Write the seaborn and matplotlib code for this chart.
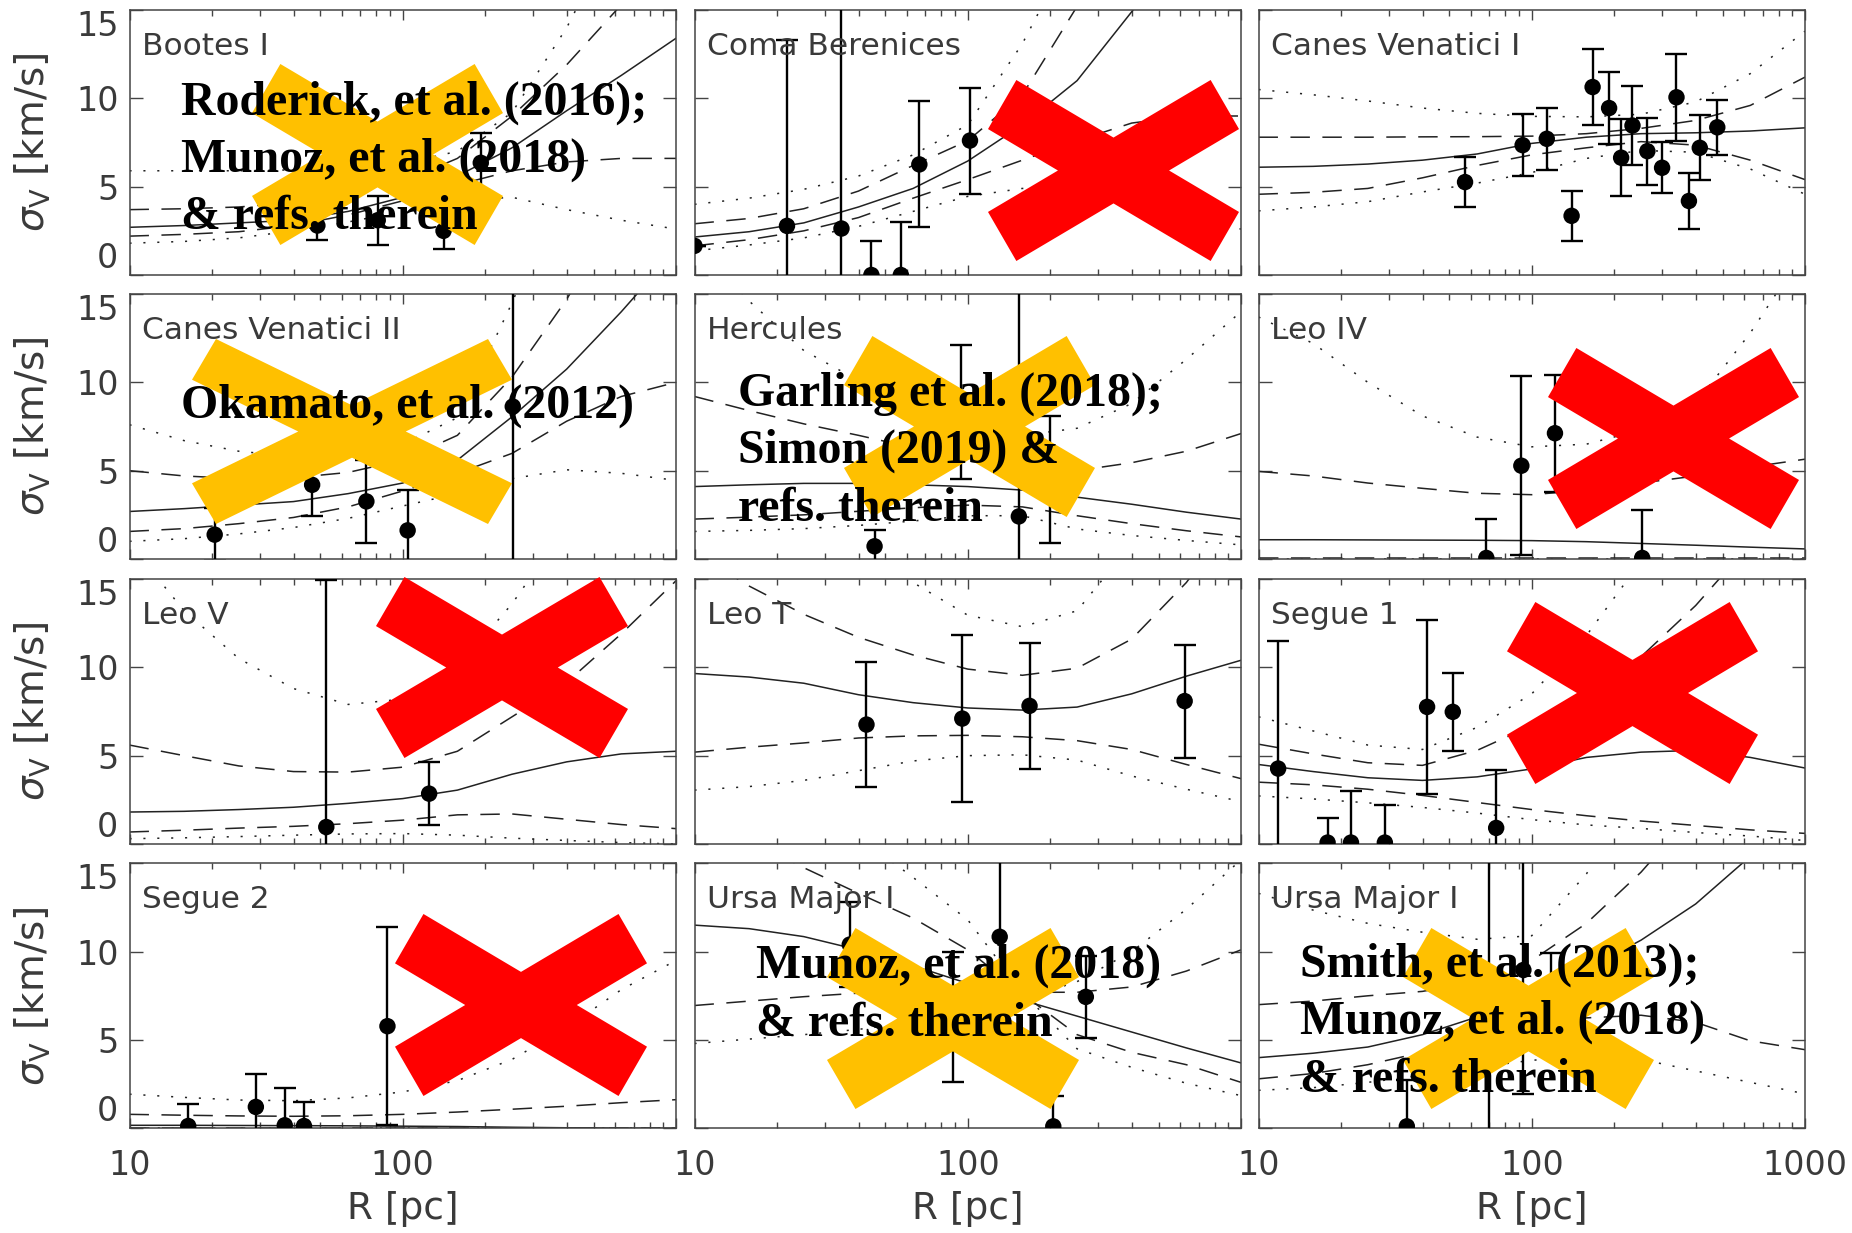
import matplotlib
matplotlib.use("Agg")
import matplotlib.pyplot as plt
import seaborn as sns
import pandas as pd
from matplotlib.patches import Polygon
from matplotlib.ticker import FixedLocator, NullFormatter

nan = float("nan")

# radius grid (pc) on which the model curves were read
R_GRID = [10.0, 15.85, 25.12, 39.81, 63.10, 100.0, 158.5, 251.2, 398.1, 631.0, 1000.0]

# ---------------- Bootes I ----------------
boo_solid = [2.7, 2.8, 2.95, 3.1, 3.6, 4.4, 5.6, 7.2, 9.3, 11.3, 13.4]
boo_dash_a = [3.7, 3.75, 3.85, 4.1, 4.6, 5.3, 6.6, 9.0, 11.9, 15.3, nan]
boo_dash_b = [2.2, 2.3, 2.45, 2.8, 3.4, 4.2, 5.1, 5.9, 6.4, 6.6, 6.6]
boo_dot_a = [5.9, 5.9, 5.9, 5.95, 6.1, 6.3, 7.0, 9.2, 14.0, 20.0, nan]
boo_dot_b = [1.8, 1.9, 2.1, 2.5, 3.0, 3.6, 4.2, 4.4, 3.7, 3.1, 2.6]
boo_R = [48.7, 81.0, 141.0, 193.0]
boo_sig = [2.8, 3.1, 2.5, 6.35]
boo_err = [0.8, 1.4, 1.0, 1.7]

# ---------------- Coma Berenices ----------------
com_solid = [2.15, 2.45, 2.95, 3.85, 4.9, 6.45, 8.5, 11.0, 14.9, 19.0, nan]
com_dash_a = [2.9, 3.2, 3.75, 4.75, 6.2, 7.6, 10.2, 15.2, nan, nan, nan]
com_dash_b = [1.65, 2.0, 2.5, 3.25, 4.35, 5.4, 6.5, 7.6, 8.6, 9.0, 9.0]
com_dot_a = [4.0, 4.35, 4.85, 5.6, 6.8, 8.5, 13.1, 19.0, nan, nan, nan]
com_dot_b = [1.37, 1.7, 2.1, 2.75, 3.6, 4.45, 4.9, 4.6, 3.9, 3.2, 2.6]
com_R = [10.0, 21.8, 34.5, 44.4, 56.9, 66.5, 101.9]
com_sig = [1.65, 2.78, 2.63, 0.0, 0.0, 6.26, 7.61]
com_err = [0.0, 10.5, 14.0, 1.9, 3.0, 3.57, 3.0]

# ---------------- Canes Venatici I ----------------
cv1_solid = [6.1, 6.15, 6.28, 6.5, 6.85, 7.45, 7.8, 8.0, 8.05, 8.15, 8.33]
cv1_dash_a = [7.8, 7.8, 7.8, 7.82, 7.83, 7.86, 8.0, 8.3, 8.75, 9.6, 11.2]
cv1_dash_b = [4.57, 4.68, 4.9, 5.5, 6.2, 6.8, 7.2, 7.55, 7.35, 6.5, 5.4]
cv1_dot_a = [10.5, 10.2, 9.85, 9.45, 9.15, 8.98, 8.95, 9.1, 9.8, 11.4, 13.8]
cv1_dot_b = [3.63, 3.85, 4.15, 4.7, 5.2, 5.8, 6.6, 7.05, 6.95, 6.0, 4.57]
cv1_R = [57.0, 92.6, 113.5, 139.9, 167.0, 191.9, 212.4, 233.7, 264.9, 299.9, 338.6, 376.0, 412.0, 477.5]
cv1_sig = [5.26, 7.35, 7.71, 3.35, 10.64, 9.45, 6.64, 8.46, 7.01, 6.07, 10.06, 4.19, 7.2, 8.36]
cv1_err = [1.41, 1.77, 1.77, 1.41, 2.13, 2.02, 2.18, 2.25, 1.9, 1.45, 2.47, 1.58, 1.85, 1.55]

# ---------------- Canes Venatici II ----------------
cv2_solid = [2.69, 2.85, 3.05, 3.25, 3.7, 4.3, 5.6, 8.05, 10.75, 14.0, 17.5]
cv2_dash_a = [5.0, 4.7, 4.55, 4.6, 4.9, 5.6, 7.0, 10.3, 14.7, 20.0, nan]
cv2_dash_b = [1.56, 1.72, 2.0, 2.35, 2.95, 3.85, 4.85, 5.98, 7.8, 9.2, 10.0]
cv2_dot_a = [7.6, 6.7, 6.1, 5.8, 5.85, 6.5, 8.0, 14.5, 22.0, nan, nan]
cv2_dot_b = [1.0, 1.15, 1.42, 1.78, 2.3, 3.0, 3.7, 4.55, 5.05, 4.85, 4.45]
cv2_R = [20.5, 46.6, 73.6, 104.2, 252.7]
cv2_sig = [1.38, 4.2, 3.26, 1.62, 8.63]
cv2_err = [1.5, 1.75, 2.36, 2.3, 10.0]

# ---------------- Hercules ----------------
her_solid = [4.1, 4.2, 4.28, 4.28, 4.2, 4.1, 3.9, 3.5, 3.1, 2.65, 2.26]
her_dash_a = [9.2, 8.4, 7.65, 7.0, 6.3, 5.7, 5.3, 5.0, 5.45, 6.1, 7.1]
her_dash_b = [2.26, 2.37, 2.5, 2.7, 2.9, 3.05, 2.95, 2.45, 2.0, 1.6, 1.25]
her_dot_a = [18.0, 14.6, 11.8, 10.1, 8.8, 7.7, 7.0, 7.4, 8.8, 11.3, 14.0]
her_dot_b = [1.56, 1.62, 1.72, 1.9, 2.15, 2.45, 2.45, 1.7, 1.33, 1.05, 0.8]
her_R = [45.6, 94.2, 153.8, 200.5]
her_sig = [0.72, 8.3, 2.41, 4.5]
her_err = [0.94, 3.8, 13.0, 3.6]

# ---------------- Leo IV ----------------
l4_solid = [1.09, 1.09, 1.08, 1.07, 1.06, 1.04, 0.98, 0.88, 0.78, 0.67, 0.57]
l4_dash_a = [4.96, 4.7, 4.3, 4.0, 3.72, 3.64, 3.9, 4.3, 4.7, 5.2, 5.65]
l4_dash_b = [0.03, 0.03, 0.03, 0.03, 0.03, 0.03, 0.03, 0.03, 0.03, 0.03, 0.03]
l4_dot_a = [13.7, 12.2, 10.0, 8.1, 6.9, 6.35, 6.5, 7.3, 8.8, 12.8, 17.5]
l4_dot_b = [0.02, 0.02, 0.02, 0.02, 0.02, 0.02, 0.02, 0.02, 0.02, 0.02, 0.02]
l4_R = [68.2, 91.6, 121.6, 253.6]
l4_sig = [0.06, 5.28, 7.12, 0.06]
l4_err = [2.2, 5.07, 3.3, 2.7]

# ---------------- Leo V ----------------
l5_solid = [1.81, 1.85, 1.95, 2.08, 2.3, 2.57, 3.05, 3.95, 4.65, 5.1, 5.25]
l5_dash_a = [5.6, 5.0, 4.42, 4.1, 4.07, 4.35, 5.25, 7.2, 9.15, 11.9, 14.9]
l5_dash_b = [0.68, 0.78, 0.9, 1.0, 1.15, 1.35, 1.65, 1.7, 1.4, 1.1, 0.87]
l5_dot_a = [17.0, 13.2, 10.5, 8.8, 7.9, 8.2, 10.0, 13.6, 18.0, nan, nan]
l5_dot_b = [0.3, 0.35, 0.42, 0.5, 0.57, 0.59, 0.5, 0.33, 0.2, 0.08, 0.0]
l5_R = [52.5, 124.9]
l5_sig = [0.96, 2.85]
l5_err = [14.0, 1.8]

# ---------------- Leo T ----------------
lt_solid = [9.65, 9.45, 9.1, 8.45, 8.0, 7.7, 7.58, 7.75, 8.5, 9.5, 10.4]
lt_dash_a = [16.5, 14.6, 13.0, 11.7, 10.7, 9.9, 9.55, 9.95, 11.6, 14.8, 19.0]
lt_dash_b = [5.2, 5.48, 5.72, 6.0, 6.12, 6.15, 6.07, 5.85, 5.35, 4.5, 3.7]
lt_dot_a = [nan, nan, nan, 18.0, 14.8, 12.95, 12.3, 13.2, 17.0, nan, nan]
lt_dot_b = [3.05, 3.25, 3.6, 4.15, 4.7, 5.0, 5.05, 4.75, 3.85, 3.1, 2.4]
lt_R = [42.6, 95.5, 168.3, 622.0]
lt_sig = [6.76, 7.1, 7.82, 8.09]
lt_err = [3.53, 4.73, 3.56, 3.2]

# ---------------- Segue 1 ----------------
s1_solid = [4.5, 4.1, 3.75, 3.6, 3.8, 4.25, 4.9, 5.2, 5.3, 4.9, 4.3]
s1_dash_a = [5.65, 5.1, 4.6, 4.45, 5.3, 6.7, 8.5, 10.6, 13.5, 17.0, nan]
s1_dash_b = [3.5, 3.35, 3.1, 2.75, 2.35, 1.95, 1.6, 1.3, 1.05, 0.8, 0.6]
s1_dot_a = [7.2, 6.4, 5.6, 5.35, 6.6, 8.5, 11.8, 16.0, nan, nan, nan]
s1_dot_b = [2.72, 2.55, 2.33, 2.07, 1.75, 1.38, 1.08, 0.88, 0.65, 0.45, 0.2]
s1_R = [11.8, 17.9, 21.8, 29.0, 41.4, 51.4, 74.1]
s1_sig = [4.27, 0.08, 0.08, 0.08, 7.76, 7.48, 0.91]
s1_err = [7.2, 1.4, 2.9, 2.1, 4.93, 2.19, 3.3]

# ---------------- Segue 2 ----------------
s2_solid = [0.17, 0.17, 0.16, 0.15, 0.14, 0.12, 0.1, 0.06, 0.03, 0.01, 0.0]
s2_dash_a = [0.79, 0.74, 0.7, 0.68, 0.71, 0.79, 0.92, 1.08, 1.25, 1.45, 1.62]
s2_dash_b = [0.02, 0.02, 0.02, 0.02, 0.02, 0.02, 0.02, 0.02, 0.02, 0.02, 0.02]
s2_dot_a = [1.93, 1.75, 1.6, 1.56, 1.72, 2.06, 2.7, 3.9, 5.7, 7.85, 9.5]
s2_dot_b = [0.02, 0.02, 0.02, 0.02, 0.02, 0.02, 0.02, 0.02, 0.02, 0.02, 0.02]
s2_R = [16.4, 29.0, 37.0, 43.5, 87.9]
s2_sig = [0.13, 1.21, 0.17, 0.13, 5.78]
s2_err = [1.23, 1.85, 2.1, 1.35, 5.6]

# ---------------- Ursa Major I (middle) ----------------
um1_solid = [11.5, 11.3, 10.85, 10.1, 9.2, 8.2, 7.25, 6.35, 5.45, 4.55, 3.7]
um1_dash_a = [nan, 16.4, 14.75, 13.3, 11.9, 10.1, 7.6, 5.3, 4.3, 3.6, 2.6]
um1_dash_b = [6.95, 7.2, 7.45, 7.65, 7.75, 7.75, 7.7, 7.7, 8.0, 8.9, 10.1]
um1_dot_a = [nan, nan, nan, 16.5, 14.2, 11.8, 7.7, 4.5, 3.45, 2.55, 1.85]
um1_dot_b = [4.8, 5.05, 5.3, 5.6, 6.0, 6.6, 7.3, 8.3, 10.0, 12.4, 15.2]
um1_R = [37.0, 88.3, 130.9, 205.6, 270.5]
um1_sig = [10.4, 6.3, 10.84, 0.11, 7.44]
um1_err = [2.4, 3.7, 5.0, 1.7, 2.32]

# ---------------- Ursa Major I (right) ----------------
um2_solid = [4.0, 4.25, 4.6, 5.3, 6.3, 7.6, 9.0, 10.65, 12.7, 15.4, nan]
um2_dash_a = [7.0, 7.2, 7.5, 7.75, 8.3, 9.5, 11.6, 14.5, 18.0, nan, nan]
um2_dash_b = [2.8, 3.1, 3.6, 4.3, 5.1, 5.8, 6.25, 6.4, 6.0, 4.95, 4.45]
um2_dot_a = [13.3, 12.35, 11.6, 11.1, 10.7, 10.9, 14.4, 19.0, nan, nan, nan]
um2_dot_b = [2.15, 2.3, 2.6, 3.0, 3.45, 3.85, 4.05, 3.9, 3.25, 2.6, 1.95]
um2_R = [34.9, 70.0, 93.2, 118.0]
um2_sig = [0.11, 7.0, 8.96, 7.8]
um2_err = [2.6, 10.0, 7.0, 2.1]

TITLES = ["Bootes I", "Coma Berenices", "Canes Venatici I",
          "Canes Venatici II", "Hercules", "Leo IV",
          "Leo V", "Leo T", "Segue 1",
          "Segue 2", "Ursa Major I", "Ursa Major I"]

PANELS = [
    (boo_solid, boo_dash_a, boo_dash_b, boo_dot_a, boo_dot_b, boo_R, boo_sig, boo_err),
    (com_solid, com_dash_a, com_dash_b, com_dot_a, com_dot_b, com_R, com_sig, com_err),
    (cv1_solid, cv1_dash_a, cv1_dash_b, cv1_dot_a, cv1_dot_b, cv1_R, cv1_sig, cv1_err),
    (cv2_solid, cv2_dash_a, cv2_dash_b, cv2_dot_a, cv2_dot_b, cv2_R, cv2_sig, cv2_err),
    (her_solid, her_dash_a, her_dash_b, her_dot_a, her_dot_b, her_R, her_sig, her_err),
    (l4_solid, l4_dash_a, l4_dash_b, l4_dot_a, l4_dot_b, l4_R, l4_sig, l4_err),
    (l5_solid, l5_dash_a, l5_dash_b, l5_dot_a, l5_dot_b, l5_R, l5_sig, l5_err),
    (lt_solid, lt_dash_a, lt_dash_b, lt_dot_a, lt_dot_b, lt_R, lt_sig, lt_err),
    (s1_solid, s1_dash_a, s1_dash_b, s1_dot_a, s1_dot_b, s1_R, s1_sig, s1_err),
    (s2_solid, s2_dash_a, s2_dash_b, s2_dot_a, s2_dot_b, s2_R, s2_sig, s2_err),
    (um1_solid, um1_dash_a, um1_dash_b, um1_dot_a, um1_dot_b, um1_R, um1_sig, um1_err),
    (um2_solid, um2_dash_a, um2_dash_b, um2_dot_a, um2_dot_b, um2_R, um2_sig, um2_err),
]

# overlay annotations: (x0, y0, w, h) in pixels from top-left, colour
ORANGE = "#FFC000"
RED = "#FF0000"
CROSSES = [
    (252, 64, 251, 181, ORANGE),
    (988, 80, 251, 181, RED),
    (192, 339, 320, 185, ORANGE),
    (844, 336, 251, 181, ORANGE),
    (1548, 348, 251, 181, RED),
    (376, 577, 252, 181, RED),
    (1507, 602, 251, 182, RED),
    (395, 914, 252, 182, RED),
    (827, 928, 252, 181, ORANGE),
    (1403, 928, 251, 181, ORANGE),
]
NOTES = [
    (181, [115, 172, 229], ["Roderick, et al. (2016);", "Munoz, et al. (2018)", "& refs. therein"]),
    (181, [418], ["Okamato, et al. (2012)"]),
    (738, [406, 463, 521], ["Garling et al. (2018);", "Simon (2019) &", "refs. therein"]),
    (756, [978, 1036], ["Munoz, et al. (2018)", "& refs. therein"]),
    (1300, [977, 1034, 1092], ["Smith, et al. (2013);", "Munoz, et al. (2018)", "& refs. therein"]),
]

FIG_W, FIG_H = 1852, 1233
COL_LEFT = [129.5, 694.5, 1258.5]
ROW_TOP = [10, 294, 579, 863.3]
AX_W, AX_H = 546.5, 265

sns.set_theme(style="ticks")
plt.rcParams["font.family"] = ["DejaVu Sans"]
plt.rcParams["lines.scale_dashes"] = False
plt.rcParams["mathtext.fontset"] = "dejavusans"

TXT = "#3a3a3a"
LINE = "#222222"
fig = plt.figure(figsize=(FIG_W / 100, FIG_H / 100), dpi=100)
fig.patch.set_facecolor("white")

DASH = (0, (14, 9))
DOT = (0, (1.5, 8.5))

for i, (title, pdata) in enumerate(zip(TITLES, PANELS)):
    r, c = divmod(i, 3)
    left = COL_LEFT[c] / FIG_W
    bottom = 1 - (ROW_TOP[r] + AX_H) / FIG_H
    ax = fig.add_axes([left, bottom, AX_W / FIG_W, AX_H / FIG_H])
    ax.set_facecolor("white")
    ax.set_xscale("log")
    ax.set_xlim(10, 1000)
    ax.set_ylim(0, 15)
    solid, da, db, ta, tb, pr, ps, pe = pdata
    for vals, ls in [(solid, "-"), (da, DASH), (db, DASH), (ta, DOT), (tb, DOT)]:
        df = pd.DataFrame({"R": R_GRID, "sigma": vals}).dropna()
        sns.lineplot(data=df, x="R", y="sigma", ax=ax, color=LINE, lw=1.1,
                     linestyle=ls, estimator=None, sort=False, legend=False, zorder=2)
    ax.errorbar(pr, ps, yerr=pe, fmt="none", ecolor="black", elinewidth=1.7,
                capsize=8, capthick=1.7, zorder=3)
    pts = pd.DataFrame({"R": pr, "sigma": ps})
    sns.scatterplot(data=pts, x="R", y="sigma", ax=ax, color="black", s=140,
                    edgecolor="none", zorder=4, legend=False)
    ax.set_xlabel("")
    ax.set_ylabel("")
    ax.text(0.023, 0.831, title, transform=ax.transAxes, fontsize=22.5,
            color=TXT, va="baseline", ha="left", zorder=5)
    # ticks
    ax.xaxis.set_major_locator(FixedLocator([10, 100, 1000]))
    minors = [m * d for d in (10, 100) for m in range(2, 10)]
    ax.xaxis.set_minor_locator(FixedLocator(minors))
    ax.xaxis.set_minor_formatter(NullFormatter())
    ax.tick_params(axis="x", which="major", direction="in", length=7, width=1,
                   top=True, bottom=True, color="#444444", labelsize=24,
                   labelcolor=TXT, pad=15)
    ax.tick_params(axis="x", which="minor", direction="in", length=4, width=1,
                   top=True, bottom=True, color="#444444")
    ax.set_yticks([0, 5, 10, 15])
    ax.tick_params(axis="y", which="major", direction="in", length=9.5, width=1,
                   left=True, right=True, color="#444444", labelsize=24,
                   labelcolor=TXT, pad=8)
    if r == 3:
        if c == 2:
            ax.set_xticklabels(["10", "100", "1000"])
        else:
            ax.set_xticklabels(["10", "100", ""])
        ax.set_xlabel("R [pc]", fontsize=27, color=TXT)
        ax.xaxis.set_label_coords(0.5, -0.235)
    else:
        ax.set_xticklabels(["", "", ""])
    if c == 0:
        ax.set_yticklabels(["0", "5", "10", "15"])
        labs = ax.get_yticklabels()
        labs[0].set_verticalalignment("bottom")
        labs[3].set_verticalalignment("top")
        ax.set_ylabel(r"$\sigma_{\rm V}$ [km/s]", fontsize=28, color=TXT)
        ax.yaxis.set_label_coords(-0.14, 0.5)
    else:
        ax.set_yticklabels(["", "", "", ""])
    for sp in ax.spines.values():
        sp.set_color("#444444")
        sp.set_linewidth(1.1)
        sp.set_visible(True)


def add_cross(x0, y0, w, h, color, a=0.113, b=0.271):
    ny = (0.5 - a) / (1 - a) * (1 - b)
    nx = (0.5 - b) / (1 - b) * (1 - a)
    shape = [(a, 0), (0.5, ny), (1 - a, 0), (1, b), (1 - nx, 0.5), (1, 1 - b),
             (1 - a, 1), (0.5, 1 - ny), (a, 1), (0, 1 - b), (nx, 0.5), (0, b)]
    verts = [((x0 + px * w) / FIG_W, 1 - (y0 + py * h) / FIG_H) for px, py in shape]
    fig.add_artist(Polygon(verts, closed=True, transform=fig.transFigure,
                           facecolor=color, edgecolor="none", zorder=2))


for x0, y0, w, h, col in CROSSES:
    if w > 300:
        add_cross(x0, y0, w, h, col, a=0.075, b=0.22)
    else:
        add_cross(x0, y0, w, h, col)

for x, ys, lines in NOTES:
    for y, s in zip(ys, lines):
        fig.text(x / FIG_W, 1 - y / FIG_H, s, fontfamily="Liberation Serif",
                 fontweight="bold", fontsize=34.4, color="black",
                 va="baseline", ha="left", zorder=6)

fig.savefig("out.png", dpi=100, facecolor="white")
